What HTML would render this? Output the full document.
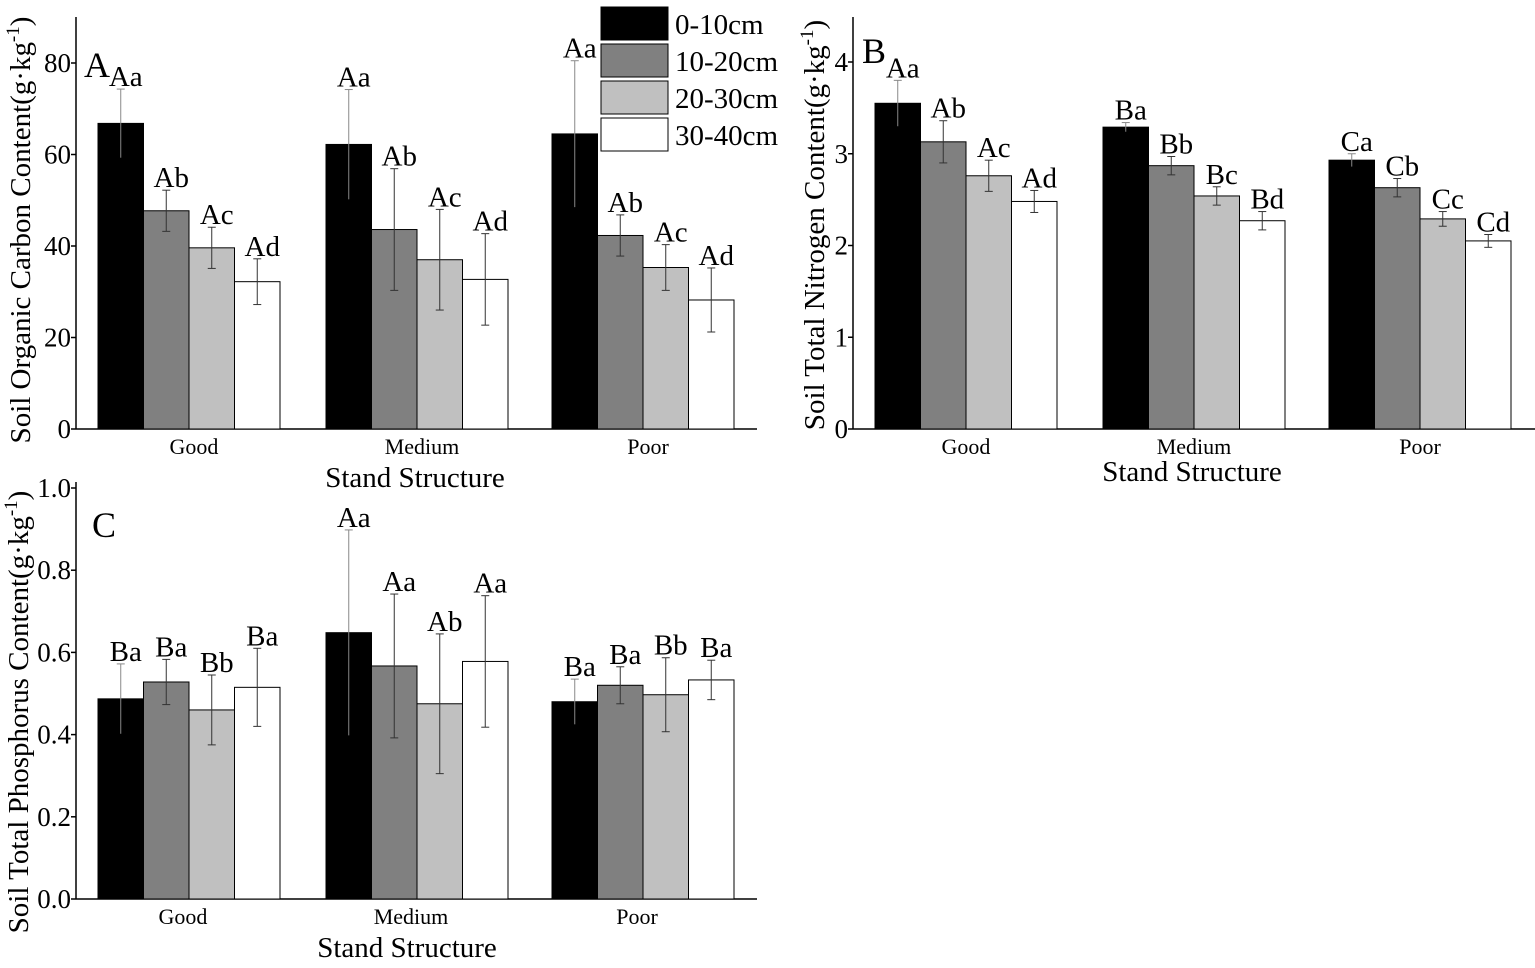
<!DOCTYPE html>
<html><head><meta charset="utf-8"><style>
body{margin:0;background:#fff;}
svg{display:block;font-family:"Liberation Serif",serif;}
</style></head><body>
<svg id="c" width="1535" height="968" xmlns="http://www.w3.org/2000/svg"></svg>
<script>
const categories = ["Good","Medium","Poor"];
const depths = ["0-10cm","10-20cm","20-30cm","30-40cm"];
const socValues = [[66.8,47.7,39.6,32.2],[62.2,43.6,37.0,32.7],[64.5,42.3,35.3,28.2]];
const socErrors = [[7.5,4.5,4.5,5.0],[12,13.3,11,10],[16,4.5,5,7]];
const socLetters = [["Aa","Ab","Ac","Ad"],["Aa","Ab","Ac","Ad"],["Aa","Ab","Ac","Ad"]];
const socTicks = [0,20,40,60,80];
const tnValues = [[3.55,3.13,2.76,2.48],[3.29,2.87,2.54,2.27],[2.93,2.63,2.29,2.05]];
const tnErrors = [[0.25,0.23,0.17,0.12],[0.05,0.10,0.10,0.10],[0.07,0.10,0.08,0.07]];
const tnLetters = [["Aa","Ab","Ac","Ad"],["Ba","Bb","Bc","Bd"],["Ca","Cb","Cc","Cd"]];
const tnTicks = [0,1,2,3,4];
const tpValues = [[0.487,0.528,0.460,0.515],[0.648,0.567,0.475,0.578],[0.480,0.520,0.497,0.533]];
const tpErrors = [[0.085,0.055,0.085,0.095],[0.25,0.175,0.17,0.16],[0.055,0.045,0.09,0.048]];
const tpLetters = [["Ba","Ba","Bb","Ba"],["Aa","Aa","Ab","Aa"],["Ba","Ba","Bb","Ba"]];
const tpTicks = [0.0,0.2,0.4,0.6,0.8,1.0];
const fills = ["#000","#808080","#c0c0c0","#fff"];

const svg = document.getElementById('c');
const NS = "http://www.w3.org/2000/svg";
function mk(tag, attrs, parent){const e=document.createElementNS(NS,tag);for(const k in attrs)e.setAttribute(k,attrs[k]);(parent||svg).appendChild(e);return e;}

function panel(o){
  const g = mk('g',{});
  
  
  const y = v => o.y0 - (v - o.min)/(o.max - o.min)*(o.y0 - o.yTop);
  const gx0 = [o.x0+22, o.x0+250, o.x0+476];
  const bw = 45.5;
  const xBar = (gi,si) => gx0[gi] + si*bw;
  const ax = mk('line',{x1:o.x0,y1:o.yAxisTop,x2:o.x0,y2:o.y0,stroke:'#000','stroke-width':1.5},g);
   
  const xa = mk('line',{x1:o.x0,y1:o.y0,x2:o.xEnd,y2:o.y0,stroke:'#000','stroke-width':1.5},g);
   
  o.ticks.forEach(t=>{
    mk('line',{x1:o.x0-5,y1:y(t),x2:o.x0,y2:y(t),stroke:'#000','stroke-width':1.5},g);
    const tl = mk('text',{x:o.x0-5,y:y(t)+9,'font-size':27,'text-anchor':'end'},g);
    tl.textContent = o.fmt(t);
     
  });
  o.values.forEach((grp,gi)=>{
    grp.forEach((v,si)=>{
      const x = xBar(gi,si), top = y(v), e = o.errors[gi][si];
      const r = mk('rect',{x:x,y:top,width:bw,height:o.y0-top,fill:fills[si],stroke:'#000','stroke-width':1},g);
       
      const cx = x+bw/2;
      const eh = y(v+e), el = y(v-e);
      const clr = si===0 ? '#888' : '#333';
      mk('line',{x1:cx,y1:eh,x2:cx,y2:el,stroke:clr,'stroke-width':1},g);
      mk('line',{x1:cx-4,y1:eh,x2:cx+4,y2:eh,stroke:clr,'stroke-width':1},g);
      if(si>0) mk('line',{x1:cx-4,y1:el,x2:cx+4,y2:el,stroke:clr,'stroke-width':1},g);
      const lt = mk('text',{x:cx+5,y:eh-3,'font-size':29,'text-anchor':'middle'},g);
      lt.textContent = o.letters[gi][si];
       
    });
    const cl = mk('text',{x:gx0[gi]+2*bw+o.catDx,y:o.y0+25,'font-size':22,'text-anchor':'middle'},g);
    cl.textContent = categories[gi];
     
  });
  const xt = mk('text',{x:o.xtX,y:o.xtY,'font-size':29,'text-anchor':'middle'},g);
  xt.textContent='Stand Structure';
   
  const yt = mk('text',{x:0,y:0,'font-size':29,'text-anchor':'middle',transform:`translate(${o.ytX},${o.ytY}) rotate(-90)`},g);
  yt.innerHTML = o.ytitle;
   
  const pl = mk('text',{x:o.plX,y:o.plY,'font-size':36},g);
  pl.textContent=o.id;
   
}
panel({id:'A',x0:76,xEnd:757,y0:429,yTop:63,yAxisTop:17,min:0,max:80,ticks:socTicks,fmt:t=>t,values:socValues,errors:socErrors,letters:socLetters,catDx:5,xtX:415,xtY:487,ytX:30,ytY:230,ytitle:'Soil Organic Carbon Content(g·kg<tspan dy="-11" font-size="19">-1</tspan><tspan dy="11">)</tspan>',plX:84,plY:77});
panel({id:'B',x0:853,xEnd:1535,y0:429,yTop:62,yAxisTop:17,min:0,max:4,ticks:tnTicks,fmt:t=>t,values:tnValues,errors:tnErrors,letters:tnLetters,catDx:0,xtX:1192,xtY:481,ytX:824,ytY:225,ytitle:'Soil Total Nitrogen Content(g·kg<tspan dy="-11" font-size="19">-1</tspan><tspan dy="11">)</tspan>',plX:862,plY:63});
panel({id:'C',x0:76,xEnd:757,y0:899,yTop:488,yAxisTop:482,min:0,max:1,ticks:tpTicks,fmt:t=>t.toFixed(1),values:tpValues,errors:tpErrors,letters:tpLetters,catDx:-6,xtX:407,xtY:957,ytX:28,ytY:712,ytitle:'Soil Total Phosphorus Content(g·kg<tspan dy="-11" font-size="19">-1</tspan><tspan dy="11">)</tspan>',plX:92,plY:537});
depths.forEach((d,i)=>{
  const r = mk('rect',{x:601,y:7+i*37,width:67,height:33,fill:fills[i],stroke:'#000','stroke-width':1});
   
  const t = mk('text',{x:675,y:34+i*37,'font-size':29});
  t.textContent=d;
   
});
</script>
</body></html>
